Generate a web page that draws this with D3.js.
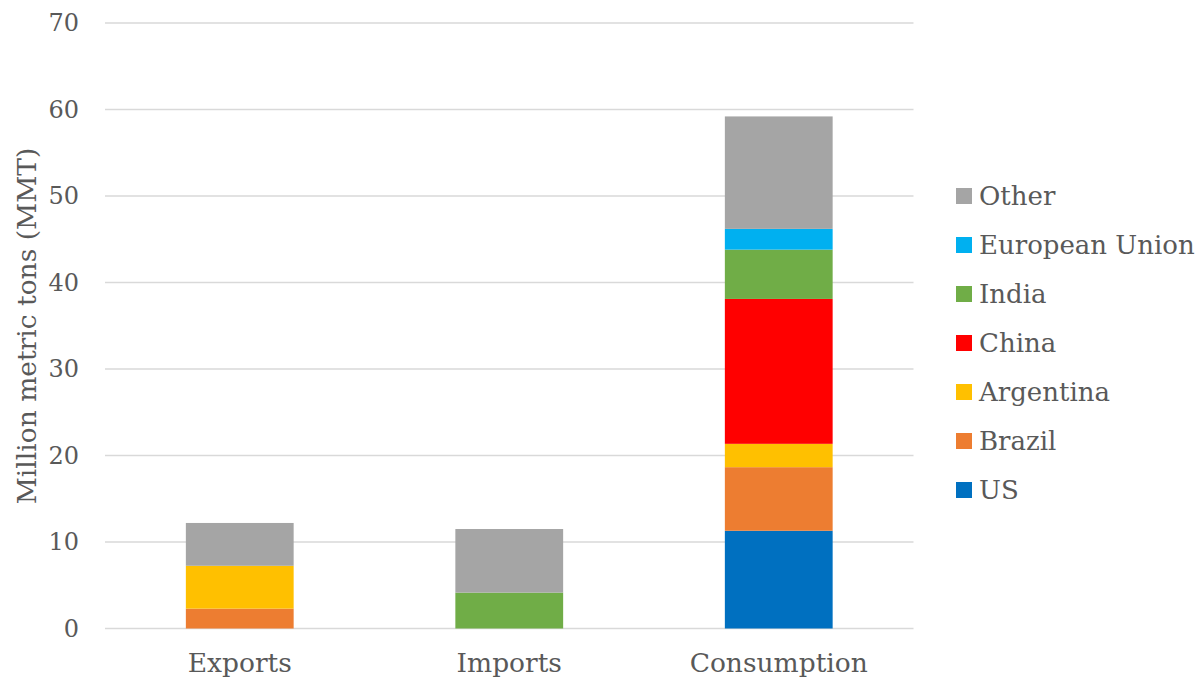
<!DOCTYPE html>
<html>
<head>
<meta charset="utf-8">
<script src="https://cdn.jsdelivr.net/npm/d3@7.9.0/dist/d3.min.js"></script>
<style>
  body { margin: 0; background: #fff; }
  svg text { font-family: "DejaVu Serif", serif; fill: #595959; }
</style>
</head>
<body>
<svg width="1200" height="679"></svg>
<script>
const categories = ['Exports', 'Imports', 'Consumption'];
const seriesNames = ['US', 'Brazil', 'Argentina', 'China', 'India', 'European Union', 'Other'];
const seriesColors = ['#0070C0', '#ED7D31', '#FFC000', '#FF0000', '#70AD47', '#00B0F0', '#A5A5A5'];
// values per series, in order Exports, Imports, Consumption
const us = [0, 0, 11.3];
const brazil = [2.3, 0, 7.35];
const argentina = [4.95, 0, 2.7];
const china = [0, 0, 16.75];
const india = [0, 4.15, 5.7];
const eu = [0, 0, 2.4];
const other = [4.95, 7.35, 13.0];
const yTicks = [0, 10, 20, 30, 40, 50, 60, 70];

const seriesValues = [us, brazil, argentina, china, india, eu, other];
let rows = categories.map((c, i) => {
  let r = { category: c };
  seriesNames.forEach((s, j) => { r[s] = seriesValues[j][i]; });
  return r;
});

let svg = d3.select('svg');
let x = d3.scaleBand().domain(categories).range([105, 913.5]).paddingInner(0.6).paddingOuter(0.3);
let y = d3.scaleLinear().domain([0, 70]).range([628.5, 23]);
let colors = d3.scaleOrdinal().domain(seriesNames).range(seriesColors);
const labelSize = 26.5;

// gridlines
svg.append('g')
  .selectAll('line')
  .data(yTicks)
  .join('line')
  .attr('x1', 105).attr('x2', 913.5)
  .attr('y1', d => y(d)).attr('y2', d => y(d))
  .attr('stroke', '#d9d9d9').attr('stroke-width', 1.5);

// y tick labels
svg.append('g')
  .selectAll('text')
  .data(yTicks)
  .join('text')
  .attr('x', 79).attr('y', d => y(d))
  .attr('dy', '0.35em')
  .attr('text-anchor', 'end')
  .attr('font-size', 24)
  .text(d => d);

let stacked = d3.stack().keys(seriesNames)(rows);
svg.append('g')
  .selectAll('g')
  .data(stacked)
  .join('g')
  .attr('fill', d => colors(d.key))
  .selectAll('rect')
  .data(d => d.filter(p => p[1] - p[0] > 0))
  .join('rect')
  .attr('x', d => x(d.data.category))
  .attr('width', x.bandwidth())
  .attr('y', d => y(d[1]))
  .attr('height', d => y(d[0]) - y(d[1]));

// x labels
svg.append('g')
  .selectAll('text')
  .data(categories)
  .join('text')
  .attr('x', d => x(d) + x.bandwidth() / 2)
  .attr('y', 663)
  .attr('dy', '0.35em')
  .attr('text-anchor', 'middle')
  .attr('font-size', labelSize)
  .text(d => d);

// y axis title
svg.append('text')
  .attr('transform', 'translate(27,326) rotate(-90)')
  .attr('dy', '0.35em')
  .attr('text-anchor', 'middle')
  .attr('font-size', labelSize)
  .text('Million metric tons (MMT)');

// legend, reversed order
let legendItems = seriesNames.slice().reverse();
let legend = svg.append('g')
  .selectAll('g')
  .data(legendItems)
  .join('g')
  .attr('transform', (d, i) => `translate(956, ${196 + i * 49})`);
legend.append('rect')
  .attr('x', 0).attr('y', -8).attr('width', 16).attr('height', 16)
  .attr('fill', d => colors(d));
legend.append('text')
  .attr('x', 23).attr('dy', '0.35em')
  .attr('font-size', 26)
  .text(d => d);
</script>
</body>
</html>
